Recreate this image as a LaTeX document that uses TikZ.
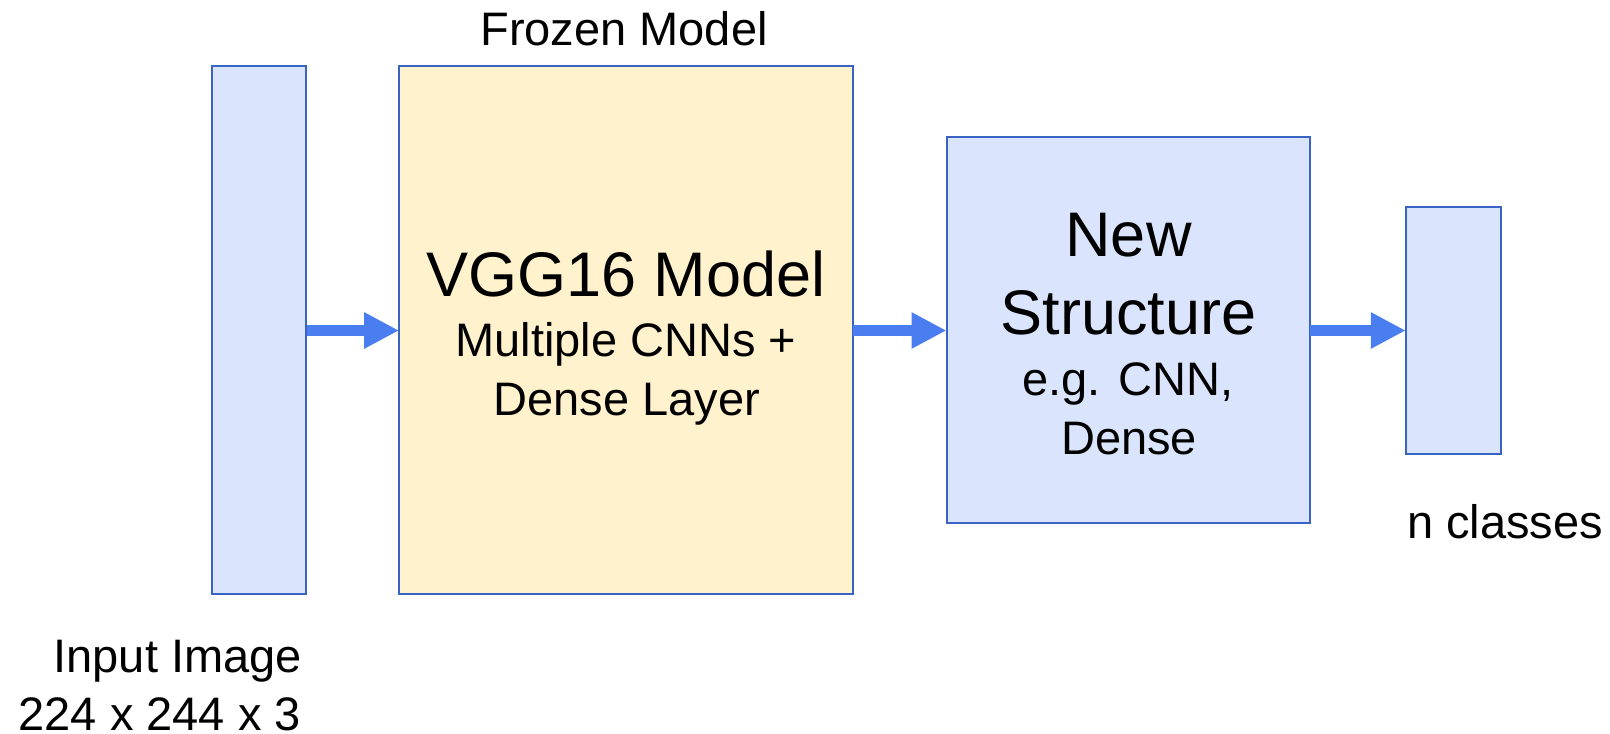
\documentclass[tikz,border=0pt]{standalone}
\usepackage{fontspec}
\setmainfont{Liberation Sans}
\usetikzlibrary{arrows.meta}
\definecolor{boxblue}{HTML}{DAE4FC}
\definecolor{boxyellow}{HTML}{FFF2CC}
\definecolor{edgeblue}{HTML}{3A64C4}
\definecolor{arrowblue}{HTML}{4A7EF0}
\tikzset{
  blk/.style={draw=edgeblue, line width=2pt},
  lbl/.style={inner sep=0pt, font=\fontsize{47}{58}\selectfont},
  big/.style={inner sep=0pt, font=\fontsize{63}{77}\selectfont},
  flow/.style={draw=arrowblue, line width=11pt, -{Triangle[length=35pt,width=34pt]}}
}
\begin{document}
\begin{tikzpicture}[x=1pt,y=-1pt]
\useasboundingbox (0,0) rectangle (1610,734);
% boxes
\path[blk, fill=boxblue] (211.7,66) rectangle (306.3,593.5);
\node[inner sep=0pt, minimum width=94.6pt, minimum height=527.5pt] (in) at (259,329.75) {};
\path[blk, fill=boxyellow] (399.3,66) rectangle (853,593.5);
\node[inner sep=0pt, minimum width=453.7pt, minimum height=527.5pt] (vgg) at (626.15,329.75) {};
\path[blk, fill=boxblue] (946.7,137) rectangle (1310,523);
\node[inner sep=0pt, minimum width=363.3pt, minimum height=386pt] (new) at (1128.35,330) {};
\path[blk, fill=boxblue] (1406,206.7) rectangle (1500.7,454);
\node[inner sep=0pt, minimum width=94.7pt, minimum height=247.3pt] (out) at (1453.35,330.35) {};
% texts
\node[lbl, anchor=base] (frozen) at (624,45) {Frozen Model};
\node[big, anchor=base] (vggt) at (626,296) {VGG16 Model};
\node[lbl, anchor=base] (vggs1) at (626,356.7) {Multiple CNNs +};
\node[lbl, anchor=base] (vggs2) at (627,415) {Dense Layer};
\node[big, anchor=base] (newt1) at (1128.5,256.7) {New};
\node[big, anchor=base] (newt2) at (1128.5,334) {Structure};
\node[lbl, anchor=base] (news1) at (1128,395) {e.g. CNN,};
\node[lbl, anchor=base] (news2) at (1129,454.3) {Dense};
\node[lbl, anchor=base east] (inl1) at (302,672.7) {Input Image};
\node[lbl, anchor=base east] (inl2) at (301,730) {224 x 244 x 3};
\node[lbl, anchor=base west] (outl) at (1407,538.3) {n classes};
% arrows
\draw[flow] (in.east |- 0,330.5) -- (vgg.west |- 0,330.5);
\draw[flow] (vgg.east |- 0,330.5) -- (new.west |- 0,330.5);
\draw[flow] (new.east |- 0,330.5) -- (out.west |- 0,330.5);
\end{tikzpicture}
\end{document}
